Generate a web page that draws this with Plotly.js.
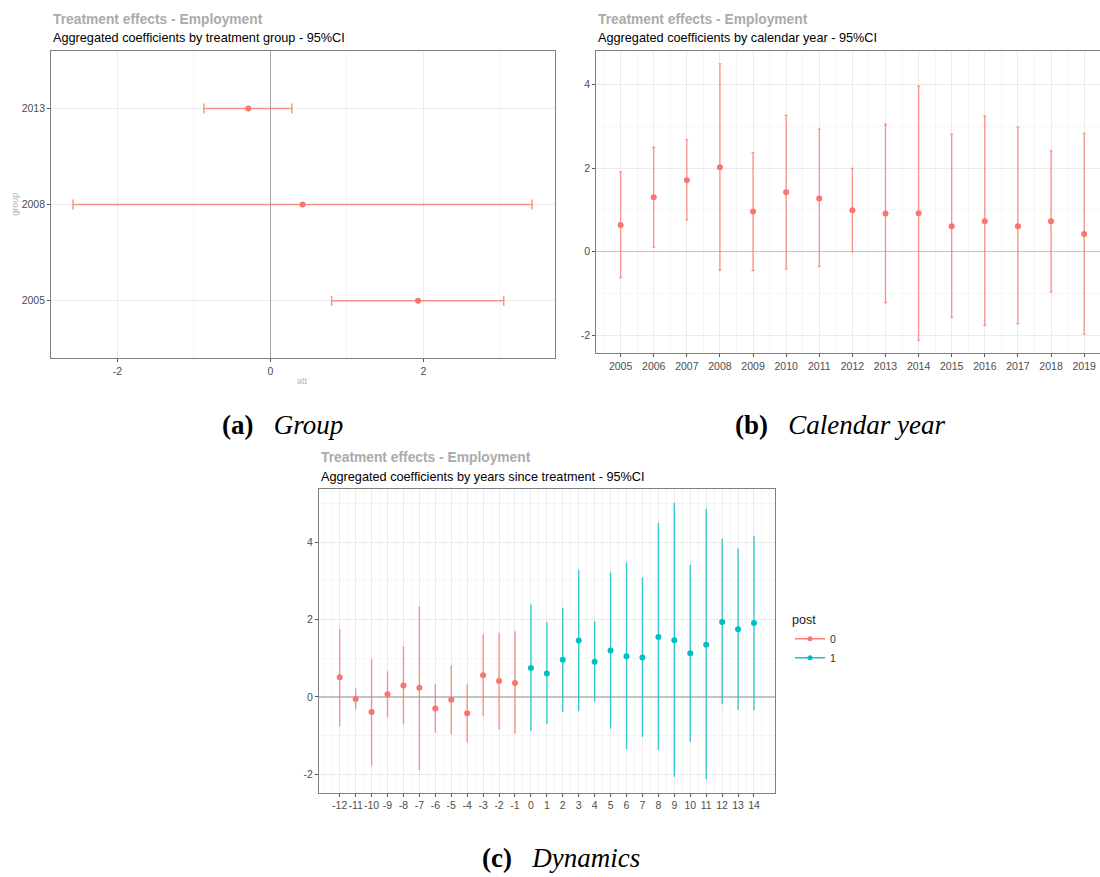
<!DOCTYPE html>
<html>
<head>
<meta charset="utf-8">
<script src="https://cdn.plot.ly/plotly-3.0.1.min.js"></script>
<style>
  html, body { margin: 0; padding: 0; background: #ffffff; }
  #chart { width: 1100px; height: 877px; }
</style>
</head>
<body>
<div id="chart"></div>
<script>
// ---------- Data ----------
// (a) by treatment group
const groupCats = ['2005', '2008', '2013'];
const groupAtt = [1.93, 0.42, -0.29];
const groupLo  = [0.80, -2.58, -0.87];
const groupHi  = [3.05, 3.42, 0.28];

// (b) by calendar year
const calYears = [2005, 2006, 2007, 2008, 2009, 2010, 2011, 2012, 2013, 2014, 2015, 2016, 2017, 2018, 2019];
const calAtt = [0.64, 1.30, 1.71, 2.02, 0.96, 1.42, 1.27, 0.99, 0.91, 0.92, 0.61, 0.73, 0.61, 0.73, 0.42];
const calLo  = [-0.62, 0.11, 0.76, -0.44, -0.45, -0.41, -0.35, 0.00, -1.22, -2.12, -1.57, -1.76, -1.72, -0.96, -1.97];
const calHi  = [1.91, 2.49, 2.68, 4.49, 2.37, 3.26, 2.93, 1.99, 3.04, 3.96, 2.81, 3.24, 2.98, 2.41, 2.83];

// (c) dynamics, post = 0
const preE   = [-12, -11, -10, -9, -8, -7, -6, -5, -4, -3, -2, -1];
const preAtt = [0.51, -0.05, -0.39, 0.07, 0.30, 0.24, -0.30, -0.07, -0.42, 0.56, 0.41, 0.36];
const preLo  = [-0.75, -0.32, -1.78, -0.53, -0.71, -1.89, -0.92, -0.97, -1.18, -0.49, -0.84, -0.95];
const preHi  = [1.76, 0.22, 0.98, 0.66, 1.31, 2.34, 0.33, 0.82, 0.32, 1.62, 1.66, 1.70];
// (c) dynamics, post = 1
const postE   = [0, 1, 2, 3, 4, 5, 6, 7, 8, 9, 10, 11, 12, 13, 14];
const postAtt = [0.75, 0.61, 0.96, 1.46, 0.91, 1.20, 1.05, 1.02, 1.55, 1.47, 1.13, 1.35, 1.94, 1.75, 1.91];
const postLo  = [-0.88, -0.69, -0.38, -0.37, -0.12, -0.82, -1.35, -1.03, -1.37, -2.06, -1.16, -2.13, -0.19, -0.33, -0.34];
const postHi  = [2.39, 1.93, 2.31, 3.29, 1.96, 3.22, 3.48, 3.09, 4.50, 5.02, 3.42, 4.87, 4.09, 3.84, 4.17];

const postLevels = ['0', '1'];

// tick values
const attTicks = [-2, 0, 2];
const yTicksB = [-2, 0, 2, 4];
const yTicksC = [-2, 0, 2, 4];

const titleText = 'Treatment effects - Employment';
const subA = 'Aggregated coefficients by treatment group - 95%CI';
const subB = 'Aggregated coefficients by calendar year - 95%CI';
const subC = 'Aggregated coefficients by years since treatment - 95%CI';

// ---------- Styles ----------
const RED = '#F8766D', RED_BAR = 'rgba(248,118,109,0.78)';
const TEAL = '#00BFC4', TEAL_BAR = 'rgba(0,191,196,0.78)';
const SANS = 'Liberation Sans, Arial, sans-serif';
const SERIF = 'Liberation Serif, Times New Roman, serif';
const W = 1100, H = 877;
const px = v => v / W;
const py = v => 1 - v / H;

const up = (a, hi) => hi.map((h, i) => h - a[i]);
const dn = (a, lo) => lo.map((l, i) => a[i] - l);
const lbl = arr => arr.map(v => String(v)); // ASCII hyphen-minus, as in ggplot

const eventTicks = preE.concat(postE);

const traces = [
  {
    type: 'scatter', mode: 'markers', xaxis: 'x', yaxis: 'y', showlegend: false,
    x: groupAtt, y: groupCats,
    marker: { color: RED, size: 6 },
    error_x: { type: 'data', symmetric: false, array: up(groupAtt, groupHi), arrayminus: dn(groupAtt, groupLo),
               color: RED_BAR, thickness: 1.5, width: 5 }
  },
  {
    type: 'scatter', mode: 'markers', xaxis: 'x2', yaxis: 'y2', showlegend: false,
    x: calYears, y: calAtt,
    marker: { color: RED, size: 6 },
    error_y: { type: 'data', symmetric: false, array: up(calAtt, calHi), arrayminus: dn(calAtt, calLo),
               color: RED_BAR, thickness: 1.3, width: 1.5 }
  },
  {
    type: 'scatter', mode: 'markers', xaxis: 'x3', yaxis: 'y3', showlegend: false,
    x: preE, y: preAtt, name: postLevels[0],
    marker: { color: RED, size: 6 },
    error_y: { type: 'data', symmetric: false, array: up(preAtt, preHi), arrayminus: dn(preAtt, preLo),
               color: RED_BAR, thickness: 1.4, width: 0 }
  },
  {
    type: 'scatter', mode: 'markers', xaxis: 'x3', yaxis: 'y3', showlegend: false,
    x: postE, y: postAtt, name: postLevels[1],
    marker: { color: TEAL, size: 6 },
    error_y: { type: 'data', symmetric: false, array: up(postAtt, postHi), arrayminus: dn(postAtt, postLo),
               color: TEAL_BAR, thickness: 1.4, width: 0 }
  },
  // legend keys
  { type: 'scatter', mode: 'lines+markers', xaxis: 'x3', yaxis: 'y3', x: [null], y: [null], name: postLevels[0],
    line: { color: RED, width: 1.4 }, marker: { color: RED, size: 5 } },
  { type: 'scatter', mode: 'lines+markers', xaxis: 'x3', yaxis: 'y3', x: [null], y: [null], name: postLevels[1],
    line: { color: TEAL, width: 1.4 }, marker: { color: TEAL, size: 5 } }
];

const tickFont = { family: SANS, size: 10.5, color: '#4d4d4d' };
const common = {
  showline: true, linecolor: '#7f7f7f', linewidth: 1, mirror: true,
  ticks: 'outside', ticklen: 3, tickcolor: '#555555', tickwidth: 1,
  tickfont: tickFont, gridcolor: '#ebebeb', gridwidth: 1, tickangle: 0,
  zeroline: false, fixedrange: true
};

const layout = {
  width: W, height: H,
  margin: { l: 0, r: 0, t: 0, b: 0 },
  paper_bgcolor: '#ffffff', plot_bgcolor: '#ffffff',
  font: { family: SANS, color: '#4d4d4d' },
  showlegend: true,
  legend: {
    x: px(790), y: py(608), xanchor: 'left', yanchor: 'top',
    title: { text: 'post', font: { family: SANS, size: 12.5, color: '#1a1a1a' } },
    font: { family: SANS, size: 10.5, color: '#333333' },
    itemwidth: 30, tracegroupgap: 0, bgcolor: 'rgba(0,0,0,0)'
  },
  // (a)
  xaxis: Object.assign({}, common, {
    domain: [px(51.1), px(554.6)], anchor: 'y',
    range: [-2.867, 3.715], tickmode: 'array', tickvals: attTicks, ticktext: lbl(attTicks),
    minor: { tickmode: 'linear', tick0: 0, dtick: 1, showgrid: true, gridcolor: '#f5f5f5', ticks: '' },
    zeroline: true, zerolinecolor: '#a6a6a6', zerolinewidth: 1
  }),
  yaxis: Object.assign({}, common, {
    domain: [py(358.3), py(50.7)], anchor: 'x',
    type: 'category', categoryorder: 'array', categoryarray: groupCats, range: [-0.6, 2.6]
  }),
  // (b)
  xaxis2: Object.assign({}, common, {
    domain: [px(596.2), 1], anchor: 'y2',
    range: [2004.263, 2019.479], tickmode: 'array', tickvals: calYears, ticktext: lbl(calYears),
    minor: { tickmode: 'linear', tick0: 2005, dtick: 0.5, showgrid: true, gridcolor: '#f5f5f5', ticks: '' }
  }),
  yaxis2: Object.assign({}, common, {
    domain: [py(353.3), py(50.7)], anchor: 'x2', mirror: false,
    range: [-2.43, 4.805], tickmode: 'array', tickvals: yTicksB, ticktext: lbl(yTicksB),
    minor: { tickmode: 'linear', tick0: 0, dtick: 1, showgrid: true, gridcolor: '#f5f5f5', ticks: '' },
    zeroline: true, zerolinecolor: '#c4c4c4', zerolinewidth: 1.2
  }),
  // (c)
  xaxis3: Object.assign({}, common, {
    domain: [px(319), px(774.7)], anchor: 'y3',
    range: [-13.3, 15.3], tickmode: 'array', tickvals: eventTicks, ticktext: lbl(eventTicks),
    minor: { tickmode: 'linear', tick0: 0, dtick: 0.5, showgrid: true, gridcolor: '#f5f5f5', ticks: '' }
  }),
  yaxis3: Object.assign({}, common, {
    domain: [py(792.7), py(489.3)], anchor: 'x3',
    range: [-2.475, 5.37], tickmode: 'array', tickvals: yTicksC, ticktext: lbl(yTicksC),
    minor: { tickmode: 'linear', tick0: 0, dtick: 1, showgrid: true, gridcolor: '#f5f5f5', ticks: '' },
    zeroline: true, zerolinecolor: '#c4c4c4', zerolinewidth: 1.2
  }),
  annotations: [
    // panel titles
    { xref: 'paper', yref: 'paper', x: px(51.1), y: py(19), xanchor: 'left', yanchor: 'middle', showarrow: false,
      text: '<b>' + titleText + '</b>', font: { family: SANS, size: 13.8, color: '#ababab' } },
    { xref: 'paper', yref: 'paper', x: px(51.1), y: py(37.7), xanchor: 'left', yanchor: 'middle', showarrow: false,
      text: subA, font: { family: SANS, size: 12.7, color: '#000000' } },
    { xref: 'paper', yref: 'paper', x: px(596.2), y: py(19), xanchor: 'left', yanchor: 'middle', showarrow: false,
      text: '<b>' + titleText + '</b>', font: { family: SANS, size: 13.8, color: '#ababab' } },
    { xref: 'paper', yref: 'paper', x: px(596.2), y: py(37.7), xanchor: 'left', yanchor: 'middle', showarrow: false,
      text: subB, font: { family: SANS, size: 12.7, color: '#000000' } },
    { xref: 'paper', yref: 'paper', x: px(319), y: py(457.3), xanchor: 'left', yanchor: 'middle', showarrow: false,
      text: '<b>' + titleText + '</b>', font: { family: SANS, size: 13.8, color: '#ababab' } },
    { xref: 'paper', yref: 'paper', x: px(319), y: py(476.7), xanchor: 'left', yanchor: 'middle', showarrow: false,
      text: subC, font: { family: SANS, size: 12.7, color: '#000000' } },
    // axis titles for (a)
    { xref: 'paper', yref: 'paper', x: px(302.8), y: py(380.7), xanchor: 'center', yanchor: 'middle', showarrow: false,
      text: 'att', font: { family: SANS, size: 9, color: '#b5b5b5' } },
    { xref: 'paper', yref: 'paper', x: px(14.3), y: py(204.5), xanchor: 'center', yanchor: 'middle', showarrow: false,
      textangle: -90, text: 'group', font: { family: SANS, size: 9, color: '#b5b5b5' } },
    // captions
    { xref: 'paper', yref: 'paper', x: px(282), y: py(425), xanchor: 'center', yanchor: 'middle', showarrow: false,
      text: '<b>(a)</b>\u00a0\u00a0\u00a0<i>Group</i>', font: { family: SERIF, size: 27, color: '#000000' } },
    { xref: 'paper', yref: 'paper', x: px(839.5), y: py(425), xanchor: 'center', yanchor: 'middle', showarrow: false,
      text: '<b>(b)</b>\u00a0\u00a0\u00a0<i>Calendar year</i>', font: { family: SERIF, size: 27, color: '#000000' } },
    { xref: 'paper', yref: 'paper', x: px(561), y: py(858), xanchor: 'center', yanchor: 'middle', showarrow: false,
      text: '<b>(c)</b>\u00a0\u00a0\u00a0<i>Dynamics</i>', font: { family: SERIF, size: 27, color: '#000000' } }
  ]
};

Plotly.newPlot('chart', traces, layout, { displayModeBar: false, staticPlot: true });
</script>
</body>
</html>
